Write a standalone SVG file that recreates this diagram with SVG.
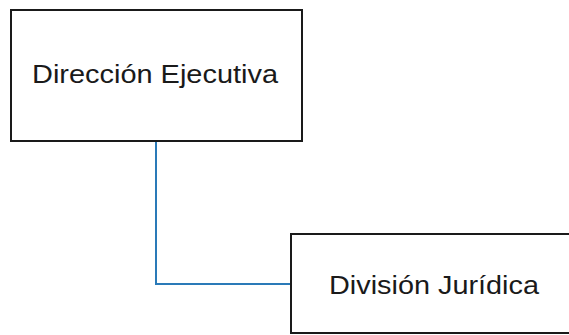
<svg xmlns="http://www.w3.org/2000/svg" width="569" height="335" viewBox="0 0 569 335">
<style>
.box{fill:#fff;stroke:#1a1a1a;stroke-width:2}
.lbl{font-family:"Liberation Sans",Arial,sans-serif;font-size:26px;fill:#1a1a1a}
.conn{fill:none;stroke:#2a7ab8;stroke-width:2}
</style>
<rect width="569" height="335" fill="#fff"/>
<g id="connectors">
<path class="conn" d="M156,141 V284 H291"/>
</g>
<g id="direccion-ejecutiva">
<rect class="box" x="11" y="10" width="291" height="131"/>
<text class="lbl" x="32" y="83" textLength="246" lengthAdjust="spacingAndGlyphs">Dirección Ejecutiva</text>
</g>
<g id="division-juridica">
<rect class="box" x="291" y="234" width="290" height="99"/>
<text class="lbl" x="329" y="294" textLength="210" lengthAdjust="spacingAndGlyphs">División Jurídica</text>
</g>
</svg>
